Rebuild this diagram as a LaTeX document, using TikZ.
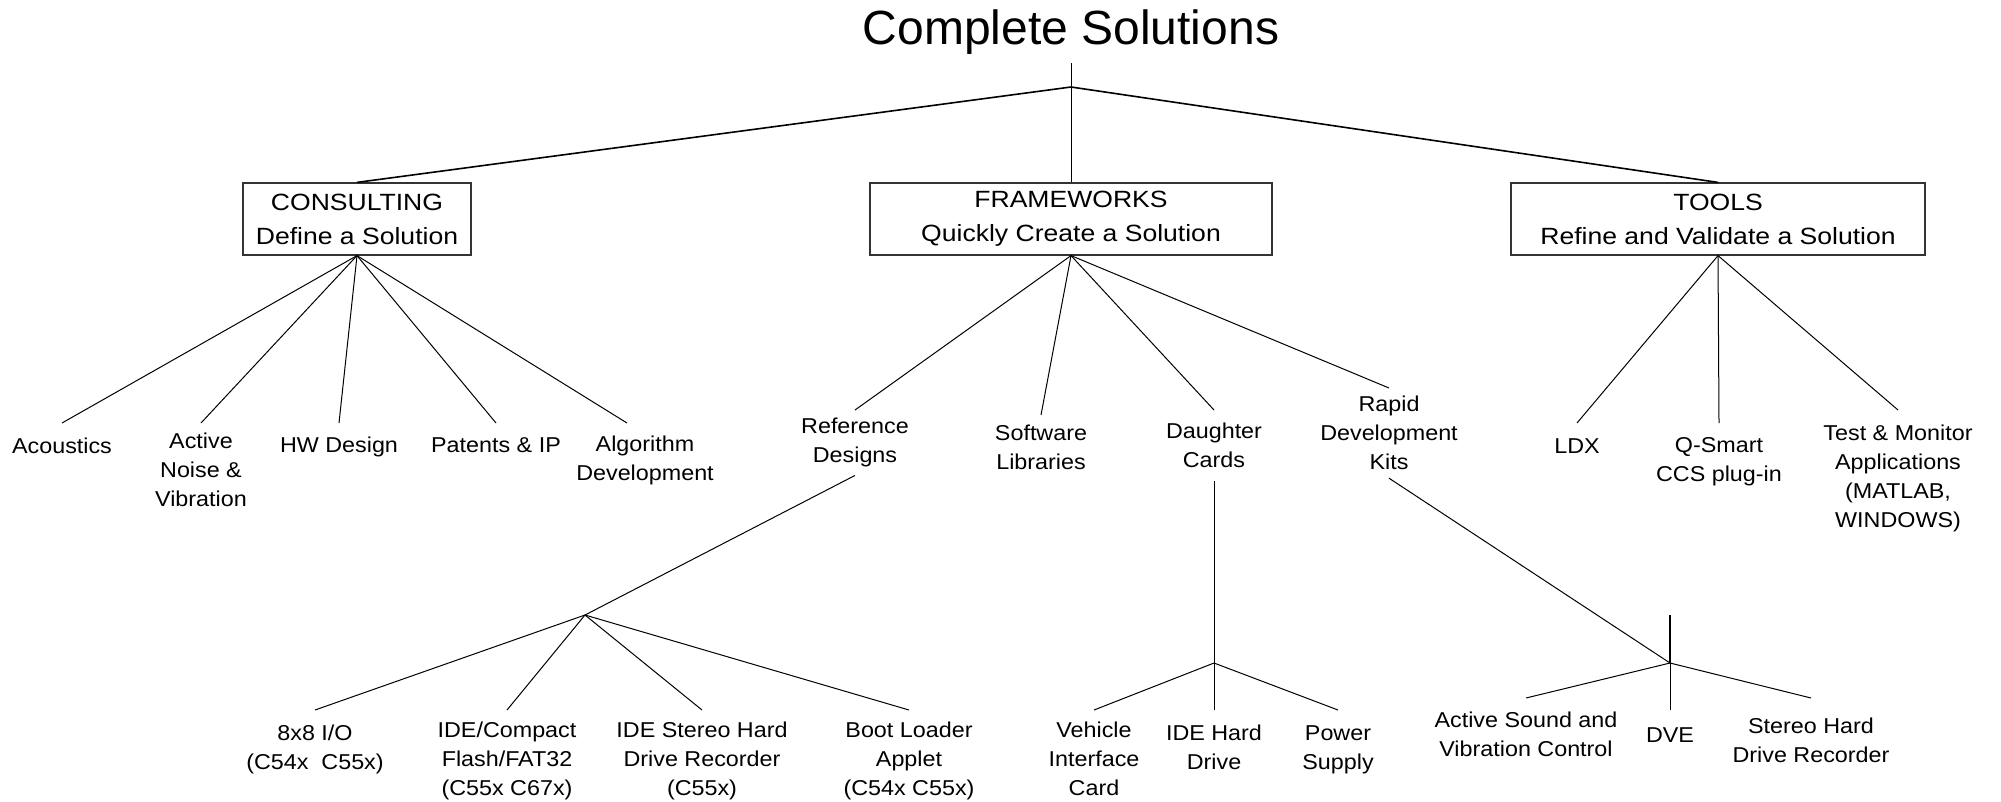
\documentclass[tikz,border=0pt]{standalone}
\usepackage{fontspec}
\setmainfont{Liberation Sans}
\newfontfamily\leaffont[FakeStretch=1.085]{Liberation Sans}
\newfontfamily\boxfont[FakeStretch=1.13]{Liberation Sans}
\begin{document}
\begin{tikzpicture}[x=1pt,y=-1pt,
  leaf/.style={font=\leaffont\fontsize{21.5}{29}\selectfont, align=center, anchor=north, inner xsep=0pt},
  catbox/.style={draw=black!80, line width=1.2pt, font=\boxfont\fontsize{23.5}{34}\selectfont, align=center, inner sep=0pt, minimum height=72pt},
  conn/.style={line width=1pt, black},
  mainconn/.style={line width=1.6pt, black},
  stub/.style={line width=2.2pt, black}
]
\useasboundingbox (0,0) rectangle (2001,801);

% title
\node[font=\fontsize{48}{56}\selectfont, anchor=south, inner xsep=0pt, inner ysep=8pt] (title) at (1071,63) {Complete Solutions};
\coordinate (apex) at (1071,87);

% category boxes
\node[catbox, minimum width=228pt] (cons) at (357,219) {CONSULTING\\Define a Solution};
\node[catbox, minimum width=402pt] (frame) at (1071,219) {FRAMEWORKS\\Quickly Create a Solution};
\node[catbox, minimum width=414pt] (tools) at (1718,219) {TOOLS\\Refine and Validate a Solution};

\draw[conn] (title.south) -- (apex);
\draw[mainconn] (apex) -- (cons.north);
\draw[conn] (apex) -- (frame.north);
\draw[mainconn] (apex) -- (tools.north);

% consulting leaves
\node[leaf, inner ysep=15pt] (acou) at (62,423) {Acoustics};
\node[leaf, inner ysep=10pt] (anv) at (201,423) {Active\\Noise \&\\Vibration};
\node[leaf, inner ysep=14pt] (hw) at (339,423) {HW Design};
\node[leaf, inner ysep=14pt] (pat) at (496,423) {Patents \& IP};
\node[leaf, inner ysep=13pt] (algo) at (645,423) {Algorithm\\Development};
\foreach \n in {acou,anv,hw,pat} \draw[conn] (cons.south) -- (\n.north);
\draw[conn] (cons.south) -- ([xshift=-18pt]algo.north);

% frameworks leaves
\node[leaf, inner ysep=8pt] (refd) at (855,410) {Reference\\Designs};
\node[leaf, inner ysep=10pt] (soft) at (1041,415) {Software\\Libraries};
\node[leaf, inner ysep=13pt] (daug) at (1214,410) {Daughter\\Cards};
\node[leaf, inner ysep=8pt] (rapid) at (1389,388) {Rapid\\Development\\Kits};
\foreach \n in {refd,soft,daug,rapid} \draw[conn] (frame.south) -- (\n.north);

% tools leaves
\node[leaf, inner ysep=15pt] (ldx) at (1577,423) {LDX};
\node[leaf, inner ysep=14pt] (qs) at (1719,423) {Q-Smart\\CCS plug-in};
\node[leaf, inner ysep=15pt] (tm) at (1898,410) {Test \& Monitor\\Applications\\(MATLAB,\\WINDOWS)};
\foreach \n in {ldx,qs,tm} \draw[conn] (tools.south) -- (\n.north);

% reference designs subtree
\coordinate (refj) at (585,615);
\draw[conn] (refd.south) -- (refj);
\node[leaf, inner ysep=15pt] (io) at (315,710) {8x8 I/O\\(C54x~~C55x)};
\node[leaf, inner ysep=12pt] (ide) at (507,710) {IDE/Compact\\Flash/FAT32\\(C55x C67x)};
\node[leaf, inner ysep=12pt] (ideshd) at (702,710) {IDE Stereo Hard\\Drive Recorder\\(C55x)};
\node[leaf, inner ysep=12pt] (boot) at (909,710) {Boot Loader\\Applet\\(C54x C55x)};
\foreach \n in {io,ide,ideshd,boot} \draw[conn] (refj) -- (\n.north);

% daughter cards subtree
\coordinate (dj) at (1214,663);
\draw[conn] (daug.south) -- (dj);
\node[leaf, inner ysep=12pt] (veh) at (1094,710) {Vehicle\\Interface\\Card};
\node[leaf, inner ysep=15pt] (ideh) at (1214,710) {IDE Hard\\Drive};
\node[leaf, inner ysep=15pt] (pow) at (1338,710) {Power\\Supply};
\foreach \n in {veh,ideh,pow} \draw[conn] (dj) -- (\n.north);

% rapid development kits subtree
\coordinate (rj) at (1670,663);
\coordinate (rjtop) at (1670,615);
\draw[conn] (rapid.south) -- (rj);
\draw[stub] (rjtop) -- (rj);
\node[leaf, inner ysep=14pt] (asvc) at (1526,698) {Active Sound and\\Vibration Control};
\node[leaf, inner ysep=17pt] (dve) at (1670,710) {DVE};
\node[leaf, inner ysep=20pt] (shdr) at (1811,698) {Stereo Hard\\Drive Recorder};
\foreach \n in {asvc,dve,shdr} \draw[conn] (rj) -- (\n.north);
\end{tikzpicture}
\end{document}
